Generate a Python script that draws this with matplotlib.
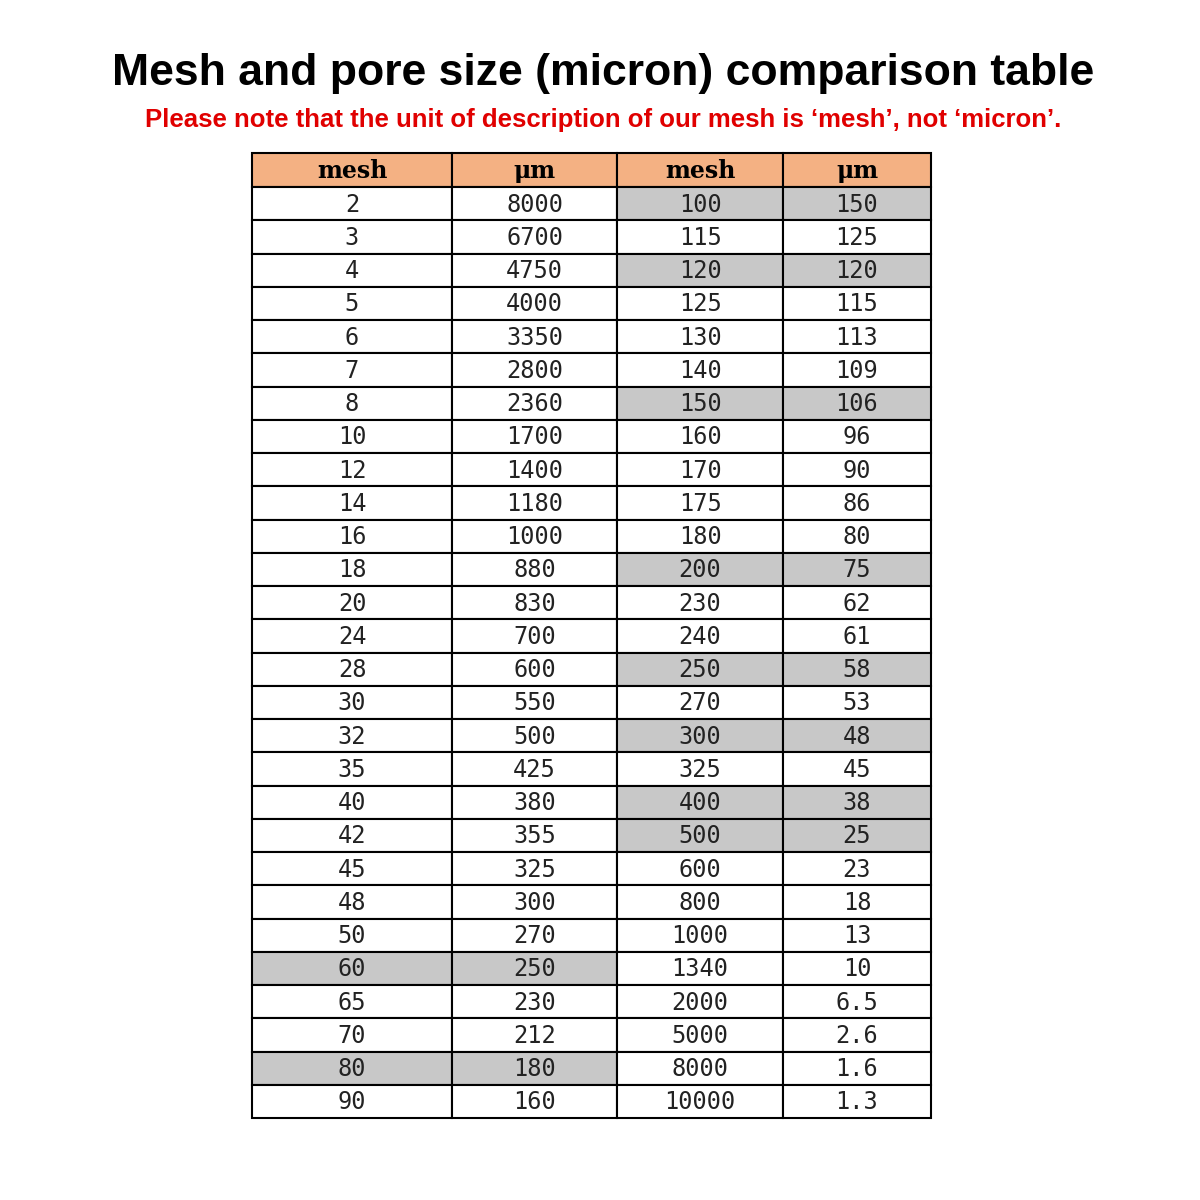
import matplotlib
matplotlib.use("Agg")
import matplotlib.pyplot as plt
from matplotlib.patches import Rectangle

mesh_left = ["2","3","4","5","6","7","8","10","12","14","16","18","20","24","28","30","32","35","40","42","45","48","50","60","65","70","80","90"]
um_left = ["8000","6700","4750","4000","3350","2800","2360","1700","1400","1180","1000","880","830","700","600","550","500","425","380","355","325","300","270","250","230","212","180","160"]
mesh_right = ["100","115","120","125","130","140","150","160","170","175","180","200","230","240","250","270","300","325","400","500","600","800","1000","1340","2000","5000","8000","10000"]
um_right = ["150","125","120","115","113","109","106","96","90","86","80","75","62","61","58","53","48","45","38","25","23","18","13","10","6.5","2.6","1.6","1.3"]
headers = ["mesh", "μm", "mesh", "μm"]
hl_left = {"60", "80"}
hl_right = {"100","120","150","200","250","300","400","500"}

fig = plt.figure(figsize=(12, 12), dpi=100)
ax = fig.add_axes([0, 0, 1, 1])
ax.set_xlim(0, 1200); ax.set_ylim(1200, 0); ax.axis("off")

ax.text(603, 73, "Mesh and pore size (micron) comparison table", ha="center", va="center",
        fontsize=32, fontweight="bold", family="Liberation Sans")
ax.text(603, 120, "Please note that the unit of description of our mesh is \u2018mesh\u2019, not \u2018micron\u2019.",
        ha="center", va="center", fontsize=18.5, fontweight="bold", color="#E00000", family="Liberation Sans")

xs = [252, 452, 617, 783, 931]
top, hh = 153, 34
rh = (1118 - 187) / 28
cols = [mesh_left, um_left, mesh_right, um_right]

for c in range(4):
    ax.add_patch(Rectangle((xs[c], top), xs[c+1]-xs[c], hh, facecolor="#F4B183", edgecolor="black", lw=1.5))
    ax.text((xs[c]+xs[c+1])/2, top+hh/2+1, headers[c], ha="center", va="center", fontsize=17,
            fontweight="bold", family="DejaVu Serif")
for r in range(28):
    y = top + hh + r*rh
    for c in range(4):
        if c < 2:
            hl = mesh_left[r] in hl_left
        else:
            hl = mesh_right[r] in hl_right
        ax.add_patch(Rectangle((xs[c], y), xs[c+1]-xs[c], rh,
                               facecolor="#C8C8C8" if hl else "white", edgecolor="black", lw=1.5))
        ax.text((xs[c]+xs[c+1])/2, y+rh/2+1, cols[c][r], ha="center", va="center",
                fontsize=17, family="DejaVu Sans Mono", color="#222222")

fig.savefig("out.png", dpi=100, facecolor="white")
